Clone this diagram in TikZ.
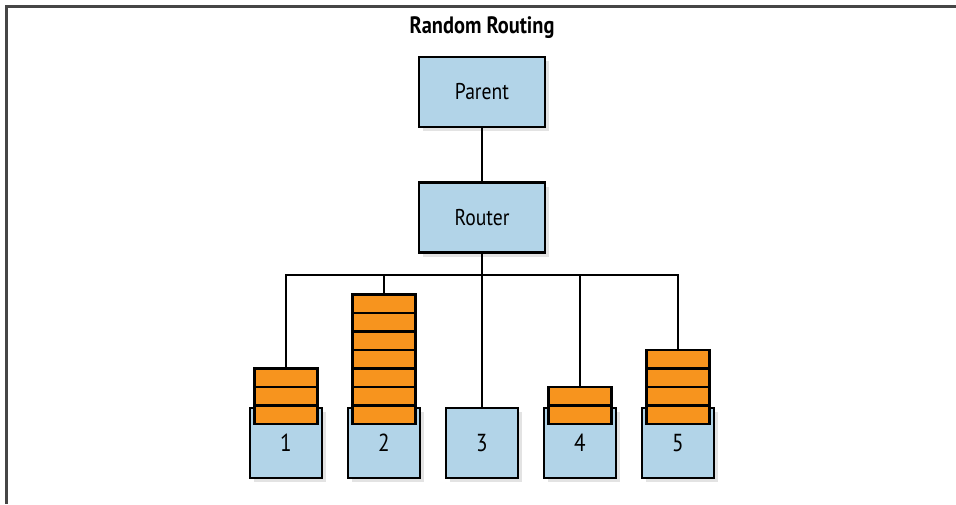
\documentclass[tikz,border=0pt]{standalone}
\usepackage{fontspec}
\setmainfont{PT Sans}[FakeStretch=0.86]
\usepackage{xcolor}
\usetikzlibrary{positioning,shadows}

\definecolor{boxblue}{RGB}{178,212,232}
\definecolor{queueorange}{RGB}{247,148,30}
\definecolor{framegray}{RGB}{70,70,70}

\begin{document}
\begin{tikzpicture}[
    x=0.02cm, y=-0.02cm,
    node distance=1.06cm,
    box/.style={rectangle, draw, line width=1.6pt, fill=boxblue, minimum width=2.52cm, minimum height=1.4cm,
        font=\fontsize{13}{15}\selectfont, drop shadow={opacity=0.22, shadow xshift=0.08cm, shadow yshift=-0.08cm}},
    bin/.style={box, minimum width=1.44cm, minimum height=1.4cm, font=\fontsize{14}{16}\selectfont},
    msg/.style={rectangle, draw, line width=1.6pt, fill=queueorange, minimum width=1.26cm, minimum height=0.37cm, inner sep=0pt},
    wire/.style={line width=1.6pt, line cap=rect}
]
    \useasboundingbox (0,0) rectangle (956,504);
    % frame along the top and left edge
    \draw[framegray, line width=1.2pt] (956,6.5) -- (6.5,6.5) -- (6.5,504);

    \node[font=\bfseries\fontsize{13.5}{15}\selectfont] (title) at (482,28) {Random Routing};
    \node[box] (parent) at (482,92) {Parent};
    \node[box, below=of parent] (router) {Router};

    % workers with their queued messages
    \foreach \n/\k/\xx in {1/3/286, 2/7/384, 3/0/482, 4/2/580, 5/4/678} {
        \node[bin] (bin\n) at (\xx,443) {\n};
        \coordinate (tap\n) at (\xx,275);
        \ifnum\k>0
            \foreach \j in {1,...,\k}
                \node[msg] (msg\n-\j) at (\xx,{414.75-(\j-1)*18.5}) {};
            \draw[wire] (tap\n) -- (msg\n-\k.north);
        \else
            \draw[wire] (tap\n) -- (bin\n.north);
        \fi
    }

    \draw[wire] (parent) -- (router);
    \draw[wire] (router) -- (tap3);
    \draw[wire] (tap1) -- (tap5);
\end{tikzpicture}
\end{document}
